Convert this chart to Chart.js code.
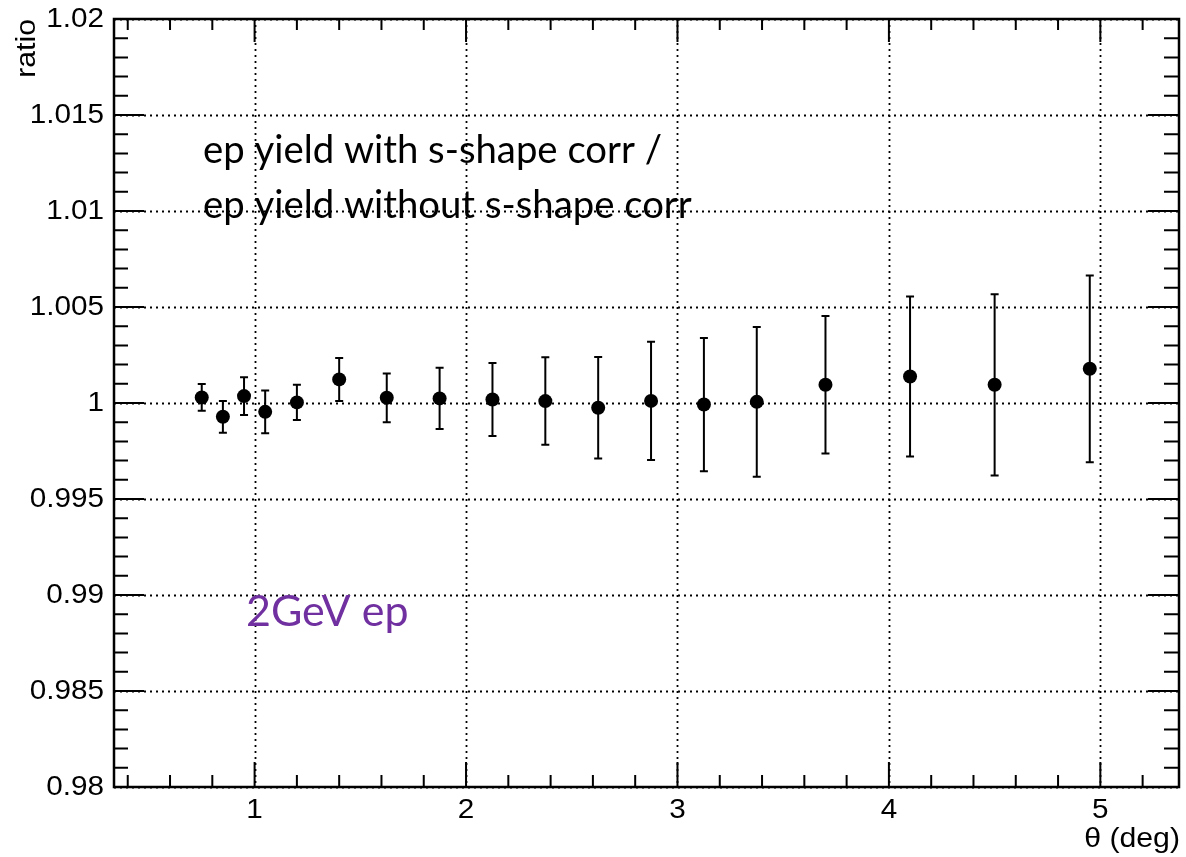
<!DOCTYPE html>
<html>
<head>
<meta charset="utf-8">
<script src="https://cdn.jsdelivr.net/npm/chart.js@4.4.1/dist/chart.umd.min.js"></script>
<style>
  html, body { margin: 0; padding: 0; background: #fff; }
  #wrap { width: 1186px; height: 857px; }
</style>
</head>
<body>
<div id="wrap"><canvas id="ratioChart" width="1186" height="857"></canvas></div>
<script>
// theta bins (deg) and the yield ratio with its error
const thetaDeg = [0.75, 0.85, 0.95, 1.05, 1.2, 1.4, 1.625, 1.875, 2.125, 2.375, 2.625, 2.875, 3.125, 3.375, 3.7, 4.1, 4.5, 4.95];
const ratio = [1.00029, 0.99928, 1.00036, 0.99954, 1.00003, 1.00123, 1.00027, 1.00024, 1.00018, 1.0001, 0.99975, 1.00011, 0.99992, 1.00006, 1.00095, 1.00138, 1.00095, 1.00178];
const ratioErr = [0.0007, 0.00083, 0.00098, 0.00111, 0.00092, 0.00112, 0.00127, 0.0016, 0.0019, 0.00228, 0.00264, 0.00308, 0.00347, 0.0039, 0.00358, 0.00417, 0.00472, 0.00486];

const xMajorTicks = [1, 2, 3, 4, 5];
const xTickLabels = ['1', '2', '3', '4', '5'];
const yMajorTicks = [0.98, 0.985, 0.99, 0.995, 1, 1.005, 1.01, 1.015, 1.02];
const yTickLabels = ['0.98', '0.985', '0.99', '0.995', '1', '1.005', '1.01', '1.015', '1.02'];
const xMinorStep = 0.2;
const yMinorStep = 0.001;

const xTitle = 'θ (deg)';
const yTitle = 'ratio';
const noteLines = ['ep yield with s-shape corr /', 'ep yield without s-shape corr'];
const energyLabel = '2GeV ep';

const points = thetaDeg.map((t, i) => ({ x: t, y: ratio[i] }));

// draw text stretched sideways a bit, the way the original labels look
function stretchedText(ctx, text, x, y, align, sx) {
    ctx.save();
    ctx.translate(x, y);
    ctx.scale(sx, 1);
    ctx.textAlign = align;
    ctx.fillText(text, 0, 0);
    ctx.restore();
}

const rootFrame = {
    id: 'rootFrame',
    beforeDatasetsDraw(chart) {
        const { ctx, chartArea: a, scales } = chart;
        const xs = scales.x, ys = scales.y;
        ctx.save();
        // dotted grid at the major ticks
        ctx.strokeStyle = '#000';
        ctx.lineWidth = 1.8;
        ctx.setLineDash([2, 4]);
        xMajorTicks.forEach(v => {
            const px = Math.round(xs.getPixelForValue(v)) + 0.5;
            ctx.beginPath(); ctx.moveTo(px, a.top); ctx.lineTo(px, a.bottom); ctx.stroke();
        });
        yMajorTicks.forEach(v => {
            const py = Math.round(ys.getPixelForValue(v)) + 0.5;
            ctx.beginPath(); ctx.moveTo(a.left, py); ctx.lineTo(a.right, py); ctx.stroke();
        });
        ctx.setLineDash([]);

        // error bars
        const meta = chart.getDatasetMeta(0);
        ctx.lineWidth = 2;
        meta.data.forEach((pt, i) => {
            const top = ys.getPixelForValue(ratio[i] + ratioErr[i]);
            const bot = ys.getPixelForValue(ratio[i] - ratioErr[i]);
            ctx.beginPath();
            ctx.moveTo(pt.x, top); ctx.lineTo(pt.x, bot);
            ctx.moveTo(pt.x - 4, top); ctx.lineTo(pt.x + 4, top);
            ctx.moveTo(pt.x - 4, bot); ctx.lineTo(pt.x + 4, bot);
            ctx.stroke();
        });
        ctx.restore();
    },
    afterDraw(chart) {
        const { ctx, chartArea: a, scales } = chart;
        const xs = scales.x, ys = scales.y;
        ctx.save();
        ctx.strokeStyle = '#000';
        ctx.fillStyle = '#000';

        // inward tick marks on all four sides
        ctx.lineWidth = 2;
        ctx.beginPath();
        for (let v = 0.4; v <= xs.max + 1e-9; v += xMinorStep) {
            const r = Math.round(v * 10) / 10;
            const major = Math.abs(r - Math.round(r)) < 1e-6;
            const px = xs.getPixelForValue(r);
            const lb = major ? 25 : 12, lt = major ? 23 : 11;
            ctx.moveTo(px, a.bottom); ctx.lineTo(px, a.bottom - lb);
            ctx.moveTo(px, a.top); ctx.lineTo(px, a.top + lt);
        }
        for (let k = 0; k <= 40; k++) {
            const v = ys.min + k * yMinorStep;
            const major = k % 5 === 0;
            const py = ys.getPixelForValue(v);
            const len = major ? 30 : 14;
            ctx.moveTo(a.left, py); ctx.lineTo(a.left + len, py);
            ctx.moveTo(a.right, py); ctx.lineTo(a.right - (major ? 31 : 15), py);
        }
        ctx.stroke();

        // frame
        ctx.lineWidth = 2.5;
        ctx.strokeRect(a.left, a.top, a.right - a.left, a.bottom - a.top);

        // tick labels
        ctx.font = '27px "Liberation Sans", Arial, sans-serif';
        ctx.textBaseline = 'middle';
        yMajorTicks.forEach((v, i) => {
            stretchedText(ctx, yTickLabels[i], 104, ys.getPixelForValue(v) + 1, 'right', 1.1);
        });
        ctx.textBaseline = 'alphabetic';
        xMajorTicks.forEach((v, i) => {
            stretchedText(ctx, xTickLabels[i], xs.getPixelForValue(v), 818, 'center', 1.1);
        });

        // axis titles
        ctx.font = '27px "Liberation Sans", Arial, sans-serif';
        stretchedText(ctx, xTitle, 1180, 847, 'right', 1.12);
        ctx.save();
        ctx.translate(35, 19);
        ctx.rotate(-Math.PI / 2);
        ctx.scale(1.12, 1);
        ctx.textAlign = 'right';
        ctx.fillText(yTitle, 0, 0);
        ctx.restore();

        // notes inside the frame
        ctx.font = '38.3px Lato, "Open Sans", sans-serif';
        ctx.textAlign = 'left';
        ctx.fillText(noteLines[0], 203, 163);
        ctx.fillText(noteLines[1], 203, 218);
        ctx.fillStyle = '#7030a0';
        ctx.font = '43px Lato, "Open Sans", sans-serif';
        ctx.fillText(energyLabel, 246, 626);
        ctx.restore();
    }
};

new Chart(document.getElementById('ratioChart'), {
    type: 'scatter',
    data: {
        datasets: [{
            data: points,
            backgroundColor: '#000',
            borderWidth: 0,
            pointRadius: 7,
            pointHoverRadius: 7
        }]
    },
    options: {
        responsive: false,
        animation: false,
        devicePixelRatio: 1,
        layout: { padding: { left: 114, top: 19, right: 5, bottom: 70 } },
        plugins: { legend: { display: false }, tooltip: { enabled: false } },
        scales: {
            x: { type: 'linear', min: 0.335, max: 5.372, display: false },
            y: { type: 'linear', min: 0.98, max: 1.02, display: false }
        }
    },
    plugins: [rootFrame]
});
</script>
</body>
</html>
